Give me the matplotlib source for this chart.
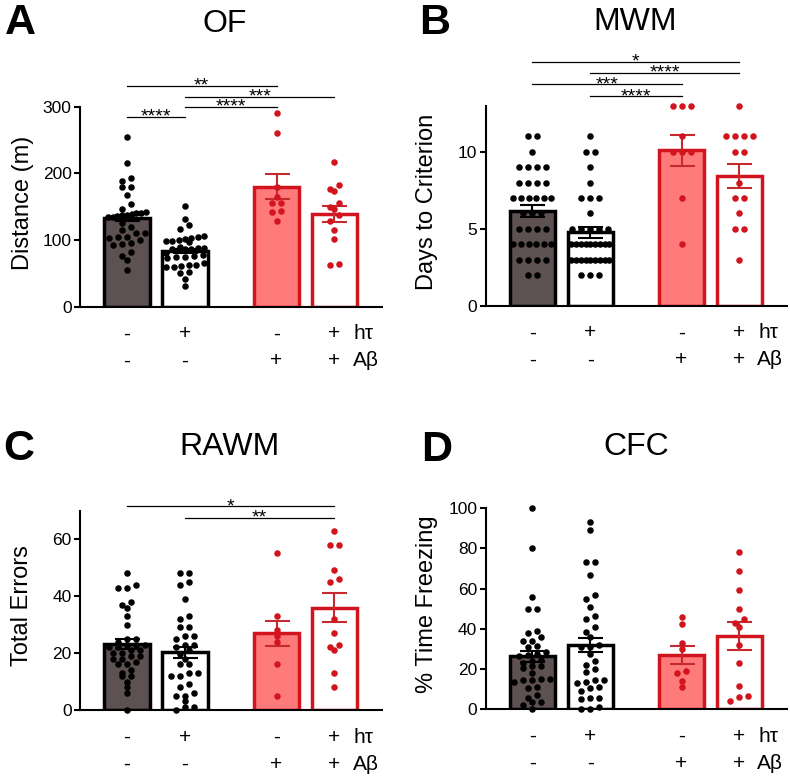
import numpy as np
import matplotlib
matplotlib.use("Agg")
import matplotlib.pyplot as plt

plt.rcParams["font.family"] = ["Liberation Sans", "DejaVu Sans"]

# group order: control, h-tau, A-beta, h-tau + A-beta
ht_row = ["-", "+", "-", "+"]
ab_row = ["-", "-", "+", "+"]

# OF - distance (m)
of_1 = [254, 215, 193, 188, 180, 179, 167, 154, 147, 142, 141, 140, 139, 138, 137, 136, 135, 134,
        133, 125, 120, 115, 111, 110, 104, 104, 103, 100, 96, 94, 93, 82, 76, 70, 55]
of_2 = [151, 132, 122, 117, 106, 103, 100, 98, 97, 98, 101, 104, 90, 88, 87, 86, 87, 88, 86, 80,
        78, 76, 75, 74, 73, 65, 63, 61, 60, 62, 60, 52, 50, 41, 31]
of_3 = [290, 261, 180, 165, 156, 155, 144, 142, 129]
of_4 = [217, 182, 176, 173, 156, 149, 146, 137, 129, 115, 102, 64, 63]
of_mean = [133, 84, 180, 139]
of_sem = [5, 3, 19, 11.5]

# MWM - days to criterion
mwm_1 = [11, 11, 10, 9, 9, 9, 9, 8, 8, 8, 8, 7, 7, 7, 7, 7, 7, 6, 6, 6, 5, 5, 5, 5,
         4, 4, 4, 4, 4, 4, 3, 3, 3, 3, 2, 2]
mwm_2 = [11, 10, 10, 9, 8, 7, 7, 7, 6, 5, 5, 5, 5, 5, 4, 4, 4, 4, 4, 4, 4, 4, 4,
         3, 3, 3, 3, 3, 3, 3, 3, 3, 2, 2, 2]
mwm_3 = [13, 13, 13, 11, 10, 10, 10, 7, 4]
mwm_4 = [13, 11, 11, 11, 11, 10, 10, 8, 7, 7, 6, 5, 5, 3]
mwm_mean = [6.15, 4.76, 10.1, 8.44]
mwm_sem = [0.38, 0.38, 1.0, 0.8]

# RAWM - total errors
rawm_1 = [48, 44, 43, 43, 38, 37, 36, 33, 30, 25, 25, 24, 23, 23, 23, 22, 22, 21, 21, 20, 20,
          19, 19, 18, 18, 17, 16, 16, 14, 13, 12, 12, 10, 8, 6, 0]
rawm_2 = [48, 48, 45, 44, 39, 33, 32, 29, 29, 26, 26, 25, 23, 23, 22, 21, 18, 19.5, 16, 16,
          13, 13, 12, 12, 8, 9, 5, 5, 6, 3, 1, 0, 1]
rawm_3 = [55, 33, 28, 26, 24, 16, 5]
rawm_4 = [63, 58, 58, 49, 46, 45, 32, 27, 23, 22, 21, 13, 8]
rawm_mean = [23.1, 20.2, 26.9, 36.0]
rawm_sem = [1.8, 2.1, 4.4, 5.0]

# CFC - % time freezing
cfc_1 = [100, 80, 56, 50, 50, 39, 38, 36, 34, 34, 31, 31.5, 28.6, 27.4, 26.4, 26.9, 24.4, 24.1,
         22.8, 21.4, 20.3, 21.4, 17.8, 14.8, 14.3, 13.6, 14.8, 14.3, 10.3, 10.8, 7, 5.3, 3.6, 2,
         3.6, 0]
cfc_2 = [93, 89, 73, 73, 67, 57, 55, 51, 46.5, 45, 41, 38.5, 35.7, 32, 31, 31, 27.4, 24, 22, 20,
         18.6, 14.4, 14.4, 13.6, 13.1, 11, 10.3, 9, 5.3, 5.3, 4.8, 1, 0, 0]
cfc_3 = [46, 42.4, 33, 30, 19, 17.8, 14, 10.8]
cfc_4 = [78, 69, 59.5, 50, 45, 43, 41, 32, 23, 11.6, 6.5, 6, 4]
cfc_mean = [26.2, 31.9, 26.9, 36.2]
cfc_sem = [2.9, 3.6, 4.6, 7.0]

RED = "#D2141E"
fills = ["#5E5151", "white", "#FF7A7A", "white"]
edges = ["black", "black", RED, RED]
err_cols = ["black", "black", "#C42A30", "#C42A30"]
pos = [0, 1, 2.58, 3.58]

W, H = 790, 778
fig = plt.figure(figsize=(W / 100, H / 100), dpi=100)


def row_x(ax, x0, vals, h=5.5, gap=9.0, max_w=38.0):
    # prism-like layout: bin values into rows, centre each row on the bar
    tr = ax.transData
    vals = np.asarray(vals, dtype=float)
    pts = tr.transform(np.column_stack([np.full(len(vals), x0), vals]))
    ys = pts[:, 1]
    offs = np.zeros(len(vals))
    order = np.argsort(-ys)
    rows, cur = [], [order[0]]
    for i in order[1:]:
        if ys[cur[0]] - ys[i] <= h:
            cur.append(i)
        else:
            rows.append(cur)
            cur = [i]
    rows.append(cur)
    for r in rows:
        n = len(r)
        g = gap if n < 2 else min(gap, max_w / (n - 1))
        r = sorted(r, key=lambda i: ys[i])
        offs[r] = (np.arange(n) - (n - 1) / 2) * g
    return tr.inverted().transform(np.column_stack([pts[:, 0] + offs, ys]))[:, 0]


panels = [
    dict(vals=[of_1, of_2, of_3, of_4], mean=of_mean, sem=of_sem, ymax=300,
         yticks=[0, 100, 200, 300], ylabel="Distance (m)", title="OF", letter="A",
         box=(80, 106.7, 382, 306.7), title_xy=(225, 24), letter_xy=(20, 23), ylab_xy=(22.5, 203),
         sig=[(0, 2, "**", 331.5), (1, 3, "***", 314.5), (1, 2, "****", 299.5), (0, 1, "****", 284.5)]),
    dict(vals=[mwm_1, mwm_2, mwm_3, mwm_4], mean=mwm_mean, sem=mwm_sem, ymax=13,
         yticks=[0, 5, 10], ylabel="Days to Criterion", title="MWM", letter="B",
         box=(485.7, 105.7, 786.7, 305.7), title_xy=(635, 22), letter_xy=(435, 22.5), ylab_xy=(426.7, 201.7),
         sig=[(0, 3, "*", 15.84), (1, 3, "****", 15.13), (0, 2, "***", 14.4), (1, 2, "****", 13.6)]),
    dict(vals=[rawm_1, rawm_2, rawm_3, rawm_4], mean=rawm_mean, sem=rawm_sem, ymax=70,
         yticks=[0, 20, 40, 60], ylabel="Total Errors", title="RAWM", letter="C",
         box=(80, 510.7, 382, 710), title_xy=(229.3, 447.3), letter_xy=(18.3, 449.3), ylab_xy=(21.7, 605.7),
         sig=[(0, 3, "*", 71.5), (1, 3, "**", 67.5)]),
    dict(vals=[cfc_1, cfc_2, cfc_3, cfc_4], mean=cfc_mean, sem=cfc_sem, ymax=100,
         yticks=[0, 20, 40, 60, 80, 100], ylabel="% Time Freezing", title="CFC", letter="D",
         box=(485.7, 508.3, 786.7, 709), title_xy=(636.7, 447.3), letter_xy=(436.7, 449.8), ylab_xy=(427.5, 604),
         sig=[]),
]

for p in panels:
    l, t, r, b = p["box"]
    ax = fig.add_axes([l / W, 1 - b / H, (r - l) / W, (b - t) / H])
    ax.set_xlim(-0.81, 4.40)
    ax.set_ylim(0, p["ymax"])
    ax.spines[["top", "right"]].set_visible(False)
    ax.spines[["left", "bottom"]].set_linewidth(1.5)
    ax.set_xticks([])
    ax.set_yticks(p["yticks"])
    ax.tick_params(axis="y", length=4.5, width=1.5, pad=1.5, labelsize=12.5)

    ax.bar(pos, p["mean"], width=0.78, color=fills, edgecolor=edges, linewidth=2.5, zorder=2)
    for k in range(4):
        ax.errorbar(pos[k], p["mean"][k], yerr=p["sem"][k], fmt="none", ecolor=err_cols[k],
                    elinewidth=1.5, capsize=9, capthick=1.5, zorder=3)
        xs = row_x(ax, pos[k], p["vals"][k])
        ax.scatter(xs, p["vals"][k], s=22, color="black" if k < 2 else RED, linewidths=0,
                   zorder=4, clip_on=False)

    # +/- treatment rows under the axis
    for k in range(4):
        ax.annotate(ht_row[k], xy=(pos[k], 0), xycoords=("data", "axes fraction"), xytext=(0, -23.5),
                    textcoords="offset points", ha="center", va="baseline", fontsize=15)
        ax.annotate(ab_row[k], xy=(pos[k], 0), xycoords=("data", "axes fraction"), xytext=(0, -43),
                    textcoords="offset points", ha="center", va="baseline", fontsize=15)
    ax.annotate("hτ", xy=(pos[3], 0), xycoords=("data", "axes fraction"), xytext=(13.5, -23.5),
                textcoords="offset points", ha="left", va="baseline", fontsize=15)
    ax.annotate("Aβ", xy=(pos[3], 0), xycoords=("data", "axes fraction"), xytext=(13, -43),
                textcoords="offset points", ha="left", va="baseline", fontsize=15)

    # significance brackets
    for i, j, stars, y in p["sig"]:
        ax.plot([pos[i], pos[j]], [y, y], color="black", lw=0.9, clip_on=False, zorder=5)
        ax.annotate(stars, xy=((pos[i] + pos[j]) / 2, y), xytext=(0, -3.5), textcoords="offset points",
                    ha="center", va="baseline", fontsize=14, annotation_clip=False)

    fig.text(p["title_xy"][0] / W, 1 - p["title_xy"][1] / H, p["title"], fontsize=23,
             ha="center", va="center")
    fig.text(p["letter_xy"][0] / W, 1 - p["letter_xy"][1] / H, p["letter"], fontsize=31,
             fontweight="bold", ha="center", va="center")
    fig.text(p["ylab_xy"][0] / W, 1 - p["ylab_xy"][1] / H, p["ylabel"], fontsize=17,
             rotation=90, ha="center", va="center")

fig.savefig("out.png", dpi=100)
